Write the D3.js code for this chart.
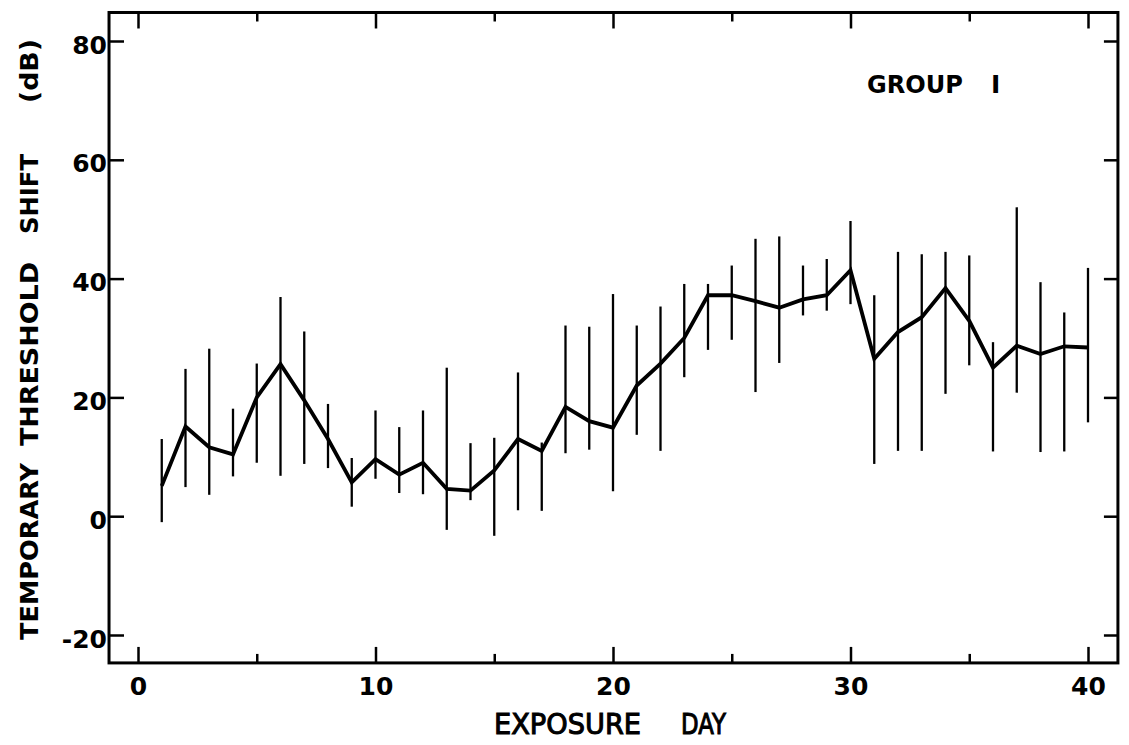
<!DOCTYPE html>
<html>
<head>
<meta charset="utf-8">
<script src="https://cdn.jsdelivr.net/npm/d3@7"></script>
<style>
  html, body { margin: 0; padding: 0; background: #fff; }
  svg { display: block; }
</style>
</head>
<body>
<svg id="chart" width="1129" height="745"></svg>
<script>
// ---- data ----
const days  = [1,2,3,4,5,6,7,8,9,10,11,12,13,14,15,16,17,18,19,20,21,22,23,24,25,26,27,28,29,30,31,32,33,34,35,36,37,38,39,40];
const means = [5.1,15.1,11.6,10.4,20.0,25.6,19.5,13.0,5.7,9.6,7.0,9.0,4.6,4.3,7.7,13.0,11.0,18.4,16.0,14.9,22.0,25.7,30.0,37.2,37.2,36.2,35.1,36.5,37.2,41.4,26.5,31.0,33.5,38.4,32.9,25.0,28.7,27.3,28.6,28.4];
const highs = [13.0,24.8,28.2,18.1,25.7,36.9,31.1,18.9,9.8,17.8,15.0,17.8,25.0,12.3,13.2,24.2,12.4,32.1,31.9,37.4,32.1,35.3,39.1,39.1,42.2,46.7,47.1,42.2,43.3,49.7,37.2,44.5,44.1,44.5,43.9,29.3,52.0,39.4,34.3,41.8];
const lows  = [-1.0,4.9,3.6,6.7,9.0,6.8,8.8,8.1,1.6,6.3,3.9,3.7,-2.3,2.7,-3.3,1.0,0.9,10.6,11.2,4.2,13.7,11.0,23.4,28.0,29.7,20.9,25.8,33.8,34.6,35.7,8.8,11.0,11.0,20.6,25.4,10.9,20.8,10.8,10.9,15.8];
const xMajorTicks = [0,10,20,30,40];
const xMinorTicks = [5,15,25,35];
const yTicks = [-20,0,20,40,60,80];
const xDomain = [-1.22, 41.26];
const yDomain = [-24.7, 84.8];
const yLabelWords = ["TEMPORARY","THRESHOLD","SHIFT","(dB)"];
const xLabelWords = ["EXPOSURE","DAY"];
const groupLabelWords = ["GROUP","I"];

// ---- layout ----
const svg = d3.select("#chart");
const x = d3.scaleLinear().domain([0, 40]).range([138, 1088]);
const y = d3.scaleLinear().domain([-20, 80]).range([635, 41]);
const L = x(xDomain[0]), R = x(xDomain[1]), T = y(yDomain[1]), B = y(yDomain[0]);
const font = "'DejaVu Sans', 'Liberation Sans', sans-serif";
const fmt = (d) => String(d); // plain hyphen for negatives

// frame
svg.append("rect")
  .attr("x", L).attr("y", T).attr("width", R - L).attr("height", B - T)
  .attr("fill", "none").attr("stroke", "#000").attr("stroke-width", 3);

function styleAxis(g) {
  g.select(".domain").remove();
  g.selectAll(".tick line").attr("stroke", "#000").attr("stroke-width", 2.5);
  g.selectAll(".tick text").attr("fill", "#000")
    .style("font-family", font).style("font-size", "25px").style("font-weight", "bold");
}

// bottom axis
svg.append("g").attr("transform", `translate(0,${B})`)
  .call(d3.axisBottom(x).tickValues(xMajorTicks).tickSize(-16).tickPadding(14).tickFormat(fmt))
  .call(styleAxis);
svg.append("g").attr("transform", `translate(0,${B})`)
  .call(d3.axisBottom(x).tickValues(xMinorTicks).tickSize(-9).tickFormat(""))
  .call(styleAxis);
// top axis
svg.append("g").attr("transform", `translate(0,${T})`)
  .call(d3.axisTop(x).tickValues(xMajorTicks).tickSize(-16).tickFormat(""))
  .call(styleAxis);
svg.append("g").attr("transform", `translate(0,${T})`)
  .call(d3.axisTop(x).tickValues(xMinorTicks).tickSize(-9).tickFormat(""))
  .call(styleAxis);
// left axis
svg.append("g").attr("transform", `translate(${L},0)`)
  .call(d3.axisLeft(y).tickValues(yTicks).tickSize(-15).tickPadding(2).tickFormat(fmt))
  .call(styleAxis)
  .call(g => g.selectAll(".tick text").attr("dy", "0.48em"));
// right axis
svg.append("g").attr("transform", `translate(${R},0)`)
  .call(d3.axisRight(y).tickValues(yTicks).tickSize(-14).tickFormat(""))
  .call(styleAxis);

// error bars
svg.append("g").selectAll("line").data(days).join("line")
  .attr("x1", (d) => x(d)).attr("x2", (d) => x(d))
  .attr("y1", (d, i) => y(highs[i])).attr("y2", (d, i) => y(lows[i]))
  .attr("stroke", "#000").attr("stroke-width", 2.3);

// mean line
const line = d3.line().x((d) => x(d)).y((d, i) => y(means[i]));
svg.append("path").datum(days)
  .attr("d", line).attr("fill", "none").attr("stroke", "#000")
  .attr("stroke-width", 3.8).attr("stroke-linejoin", "miter");

// group label
const gl = svg.append("text")
  .attr("y", 93)
  .style("font-family", font).style("font-size", "25px").style("font-weight", "bold");
gl.selectAll("tspan").data(groupLabelWords).join("tspan")
  .attr("x", (d, i) => [867, 991][i])
  .attr("textLength", (d, i) => [96, null][i])
  .attr("lengthAdjust", "spacingAndGlyphs")
  .text((d) => d);

// x label
const xl = svg.append("text")
  .attr("y", 734)
  .style("font-family", font).style("font-size", "29px")
  .attr("stroke", "#000").attr("stroke-width", 1.1);
xl.selectAll("tspan").data(xLabelWords).join("tspan")
  .attr("x", (d, i) => [494, 681][i])
  .attr("textLength", (d, i) => [147, 45][i])
  .attr("lengthAdjust", "spacingAndGlyphs")
  .text((d) => d);

// y label (rotated)
const yStarts = [640, 446, 234, 103];
const yLens = [177, 184, 80, 64];
const yl = svg.append("text")
  .attr("transform", "translate(38,0) rotate(-90)")
  .style("font-family", font).style("font-size", "25px").style("font-weight", "bold");
yl.selectAll("tspan").data(yLabelWords).join("tspan")
  .attr("x", (d, i) => -yStarts[i]).attr("y", 0)
  .attr("textLength", (d, i) => yLens[i])
  .attr("lengthAdjust", "spacingAndGlyphs")
  .text((d) => d);
</script>
</body>
</html>
